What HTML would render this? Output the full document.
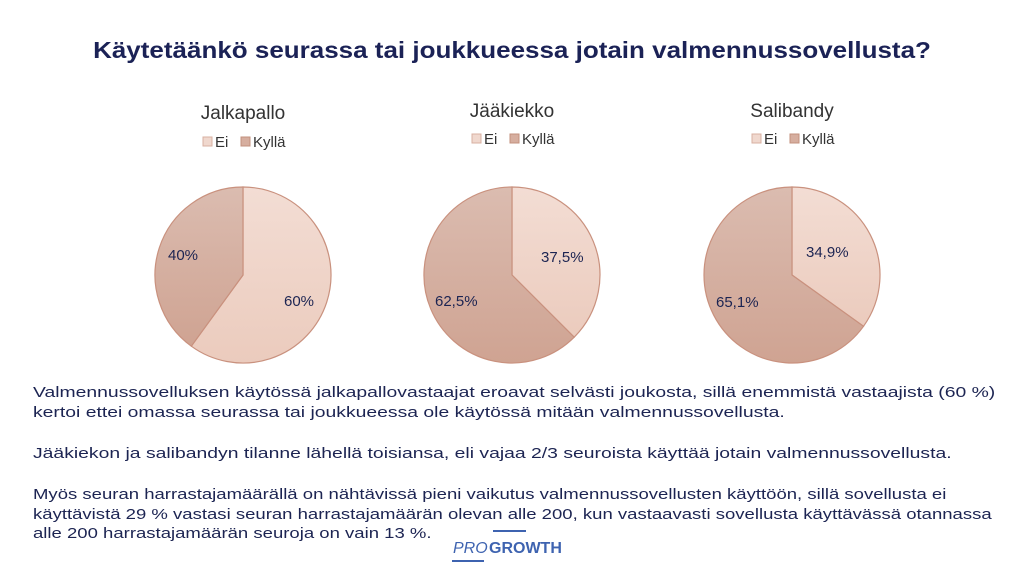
<!DOCTYPE html>
<html><head><meta charset="utf-8"><style>
body{margin:0;width:1024px;height:576px;background:#fff;font-family:"Liberation Sans",sans-serif;color:#1c2452;position:relative;overflow:hidden}
.t{position:absolute;white-space:nowrap;transform-origin:0 0}
</style></head><body>
<div class="t" style="left:512px;top:37px;font-size:23px;font-weight:bold;color:#1b2256;transform:translateX(-50%) scaleX(1.13);transform-origin:50% 0">Käytetäänkö seurassa tai joukkueessa jotain valmennussovellusta?</div>
<svg width="1024" height="576" style="position:absolute;left:0;top:0">
<defs>
<linearGradient id="a" x1="0" y1="0" x2="0" y2="1"><stop offset="0" stop-color="#f3ddd4"/><stop offset="1" stop-color="#ebcbbd"/></linearGradient>
<linearGradient id="b" x1="0" y1="0" x2="0" y2="1"><stop offset="0" stop-color="#dbbcb0"/><stop offset="1" stop-color="#cfa392"/></linearGradient>
</defs>
<g font-family="Liberation Sans,sans-serif" fill="#333" font-size="19">
<text x="243" y="119" text-anchor="middle">Jalkapallo</text>
<text x="512" y="117" text-anchor="middle">Jääkiekko</text>
<text x="792" y="117" text-anchor="middle">Salibandy</text>
</g>
<g font-family="Liberation Sans,sans-serif" fill="#333" font-size="15">
<rect x="203" y="137" width="9" height="9" fill="#f0d8ce" stroke="#d8b0a2"/><text x="215" y="147">Ei</text>
<rect x="241" y="137" width="9" height="9" fill="#d6ae9f" stroke="#c3907d"/><text x="253" y="147">Kyllä</text>
<rect x="472" y="134" width="9" height="9" fill="#f0d8ce" stroke="#d8b0a2"/><text x="484" y="144">Ei</text>
<rect x="510" y="134" width="9" height="9" fill="#d6ae9f" stroke="#c3907d"/><text x="522" y="144">Kyllä</text>
<rect x="752" y="134" width="9" height="9" fill="#f0d8ce" stroke="#d8b0a2"/><text x="764" y="144">Ei</text>
<rect x="790" y="134" width="9" height="9" fill="#d6ae9f" stroke="#c3907d"/><text x="802" y="144">Kyllä</text>
</g>
<g stroke="#c9917e" stroke-width="1.2">
<path d="M243 275 L243 187 A88 88 0 1 1 191.3 346.2 Z" fill="url(#a)"/>
<path d="M243 275 L191.3 346.2 A88 88 0 0 1 243 187 Z" fill="url(#b)"/>
<path d="M512 275 L512 187 A88 88 0 0 1 574.2 337.2 Z" fill="url(#a)"/>
<path d="M512 275 L574.2 337.2 A88 88 0 1 1 512 187 Z" fill="url(#b)"/>
<path d="M792 275 L792 187 A88 88 0 0 1 863.5 326.3 Z" fill="url(#a)"/>
<path d="M792 275 L863.5 326.3 A88 88 0 1 1 792 187 Z" fill="url(#b)"/>
</g>
<g font-family="Liberation Sans,sans-serif" fill="#1c2452" font-size="15">
<text x="168" y="260">40%</text><text x="284" y="306">60%</text>
<text x="541" y="262">37,5%</text><text x="435" y="306">62,5%</text>
<text x="806" y="257">34,9%</text><text x="716" y="307">65,1%</text>
</g>
<line x1="493" y1="531" x2="526" y2="531" stroke="#3e63b0" stroke-width="2"/>
<line x1="452" y1="561" x2="484" y2="561" stroke="#3e63b0" stroke-width="2"/>
<text x="453" y="553" font-family="Liberation Sans,sans-serif" font-size="16" font-style="italic" fill="#3e63b0">PRO</text>
<text x="489" y="553" font-family="Liberation Sans,sans-serif" font-size="16" font-weight="bold" fill="#3e63b0">GROWTH</text>
</svg>
<div class="t" style="left:33px;top:383px;font-size:15px;line-height:19.5px;transform:scaleX(1.29)">Valmennussovelluksen käytössä jalkapallovastaajat eroavat selvästi joukosta, sillä enemmistä vastaajista (60 %)<br>kertoi ettei omassa seurassa tai joukkueessa ole käytössä mitään valmennussovellusta.</div>
<div class="t" style="left:33px;top:444px;font-size:15px;line-height:19.5px;transform:scaleX(1.29)">Jääkiekon ja salibandyn tilanne lähellä toisiansa, eli vajaa 2/3 seuroista käyttää jotain valmennussovellusta.</div>
<div class="t" style="left:33px;top:485px;font-size:15px;line-height:19.5px;transform:scaleX(1.235)">Myös seuran harrastajamäärällä on nähtävissä pieni vaikutus valmennussovellusten käyttöön, sillä sovellusta ei<br>käyttävistä 29 % vastasi seuran harrastajamäärän olevan alle 200, kun vastaavasti sovellusta käyttävässä otannassa<br>alle 200 harrastajamäärän seuroja on vain 13 %.</div>
</body></html>
